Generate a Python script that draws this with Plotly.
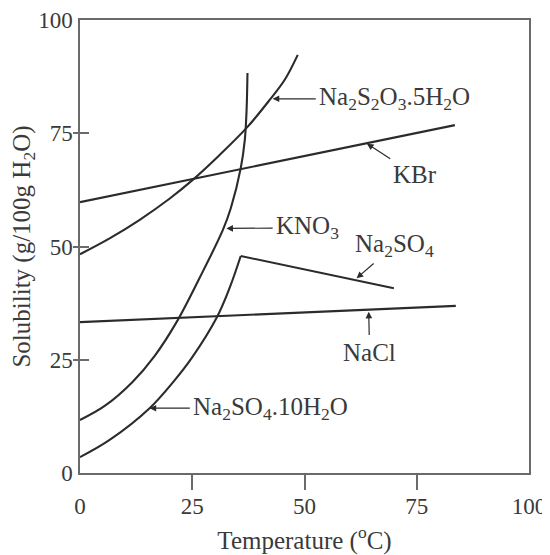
import plotly.graph_objects as go

# ---- data (temperature in °C, solubility in g/100 g H2O) ----
kbr_t = [0, 83.5]
kbr_s = [59.8, 76.8]

nacl_t = [0, 83.7]
nacl_s = [33.3, 36.9]

na2so4_t = [35.8, 69.9]
na2so4_s = [47.9, 40.8]

na2so4_10_t = [0, 6.6, 15.5, 21.1, 24.9, 30.4, 33.3, 35.8]
na2so4_10_s = [3.5, 7.3, 14.3, 20.5, 25.4, 34.2, 40.8, 47.9]

kno3_t = [0, 5.5, 11.7, 16.6, 21.5, 26.6, 31.8, 33.6, 35.8, 36.7, 37.1, 37.3]
kno3_s = [11.7, 14.8, 20.1, 25.8, 33.3, 43.0, 53.6, 58.5, 67.3, 73.5, 80.1, 88.3]

thio_t = [0, 6.6, 13.3, 20.0, 25.1, 31.1, 37.3, 42.2, 45.6, 48.5]
thio_s = [48.3, 51.8, 55.9, 60.6, 64.7, 70.2, 76.4, 82.3, 86.8, 92.3]

tick_vals = [0, 25, 50, 75, 100]
tick_text = ["0", "25", "50", "75", "100"]
minor_ticks = [25, 50, 75]

# labels: (text, arrow-tip t, arrow-tip s, text t, text s)
labels = [
    ("Na<sub>2</sub>S<sub>2</sub>O<sub>3</sub>.5H<sub>2</sub>O", 42.9, 82.6, 70.1, 82.6),
    ("KBr", 63.9, 72.7, 74.6, 65.8),
    ("KNO<sub>3</sub>", 32.6, 54.0, 50.7, 54.1),
    ("Na<sub>2</sub>SO<sub>4</sub>", 61.6, 43.0, 70.1, 50.3),
    ("NaCl", 64.3, 35.6, 64.5, 26.7),
    ("Na<sub>2</sub>SO<sub>4</sub>.10H<sub>2</sub>O", 15.5, 14.3, 42.5, 14.3),
]

FONT = "Liberation Serif, Times New Roman, serif"
INK = "#2b2b2b"
FRAME = "#6a6a6a"
TXT = "#3a3a3a"

fig = go.Figure()
line_style = dict(color=INK, width=2.1)
for t, s, shape in [
    (kbr_t, kbr_s, "linear"),
    (nacl_t, nacl_s, "linear"),
    (na2so4_t, na2so4_s, "linear"),
    (na2so4_10_t, na2so4_10_s, "spline"),
    (kno3_t, kno3_s, "spline"),
    (thio_t, thio_s, "spline"),
]:
    ls = dict(line_style, shape=shape)
    if shape == "spline":
        ls["smoothing"] = 1.0
    fig.add_trace(go.Scatter(x=t, y=s, mode="lines", line=ls,
                             showlegend=False, hoverinfo="skip"))

for text, tx, ty, lx, ly in labels:
    fig.add_annotation(
        x=tx, y=ty, ax=lx, ay=ly, axref="x", ayref="y", xref="x", yref="y",
        text=text, showarrow=True, arrowhead=2, arrowsize=1.1, arrowwidth=1.2,
        arrowcolor=INK, standoff=0, startstandoff=2,
        font=dict(family=FONT, size=25, color=TXT),
    )

axis_common = dict(
    range=[0, 100], showgrid=False, zeroline=False, automargin=False,
    showline=True, mirror=True, linecolor=FRAME, linewidth=1.5,
    tickmode="array", tickvals=tick_vals, ticktext=tick_text,
    tickfont=dict(family=FONT, size=23, color=TXT),
    tickcolor=FRAME, tickwidth=1.5,
)

fig.update_xaxes(
    **axis_common, ticks="", ticklabelstandoff=12,
    minor=dict(tickmode="array", tickvals=minor_ticks, ticks="outside",
               ticklen=15, tickwidth=1.5, tickcolor=FRAME, showgrid=False),
    title=dict(text="Temperature (<sup>o</sup>C)",
               font=dict(family=FONT, size=25, color=TXT), standoff=13),
)
fig.update_yaxes(
    **axis_common, ticks="inside", ticklen=9, ticklabelstandoff=1,
    minor=dict(tickmode="array", tickvals=minor_ticks, ticks="outside",
               ticklen=5, tickwidth=1.5, tickcolor=FRAME, showgrid=False),
    title=dict(text="Solubility (g/100g H<sub>2</sub>O)",
               font=dict(family=FONT, size=25, color=TXT), standoff=2),
)

# the page body adds an 8 px offset at top/left, so the figure is sized to fit
fig.update_layout(
    width=542, height=547, autosize=False,
    margin=dict(l=72, r=21, t=12, b=82),
    plot_bgcolor="white", paper_bgcolor="white",
)

fig.write_html("out.html")
